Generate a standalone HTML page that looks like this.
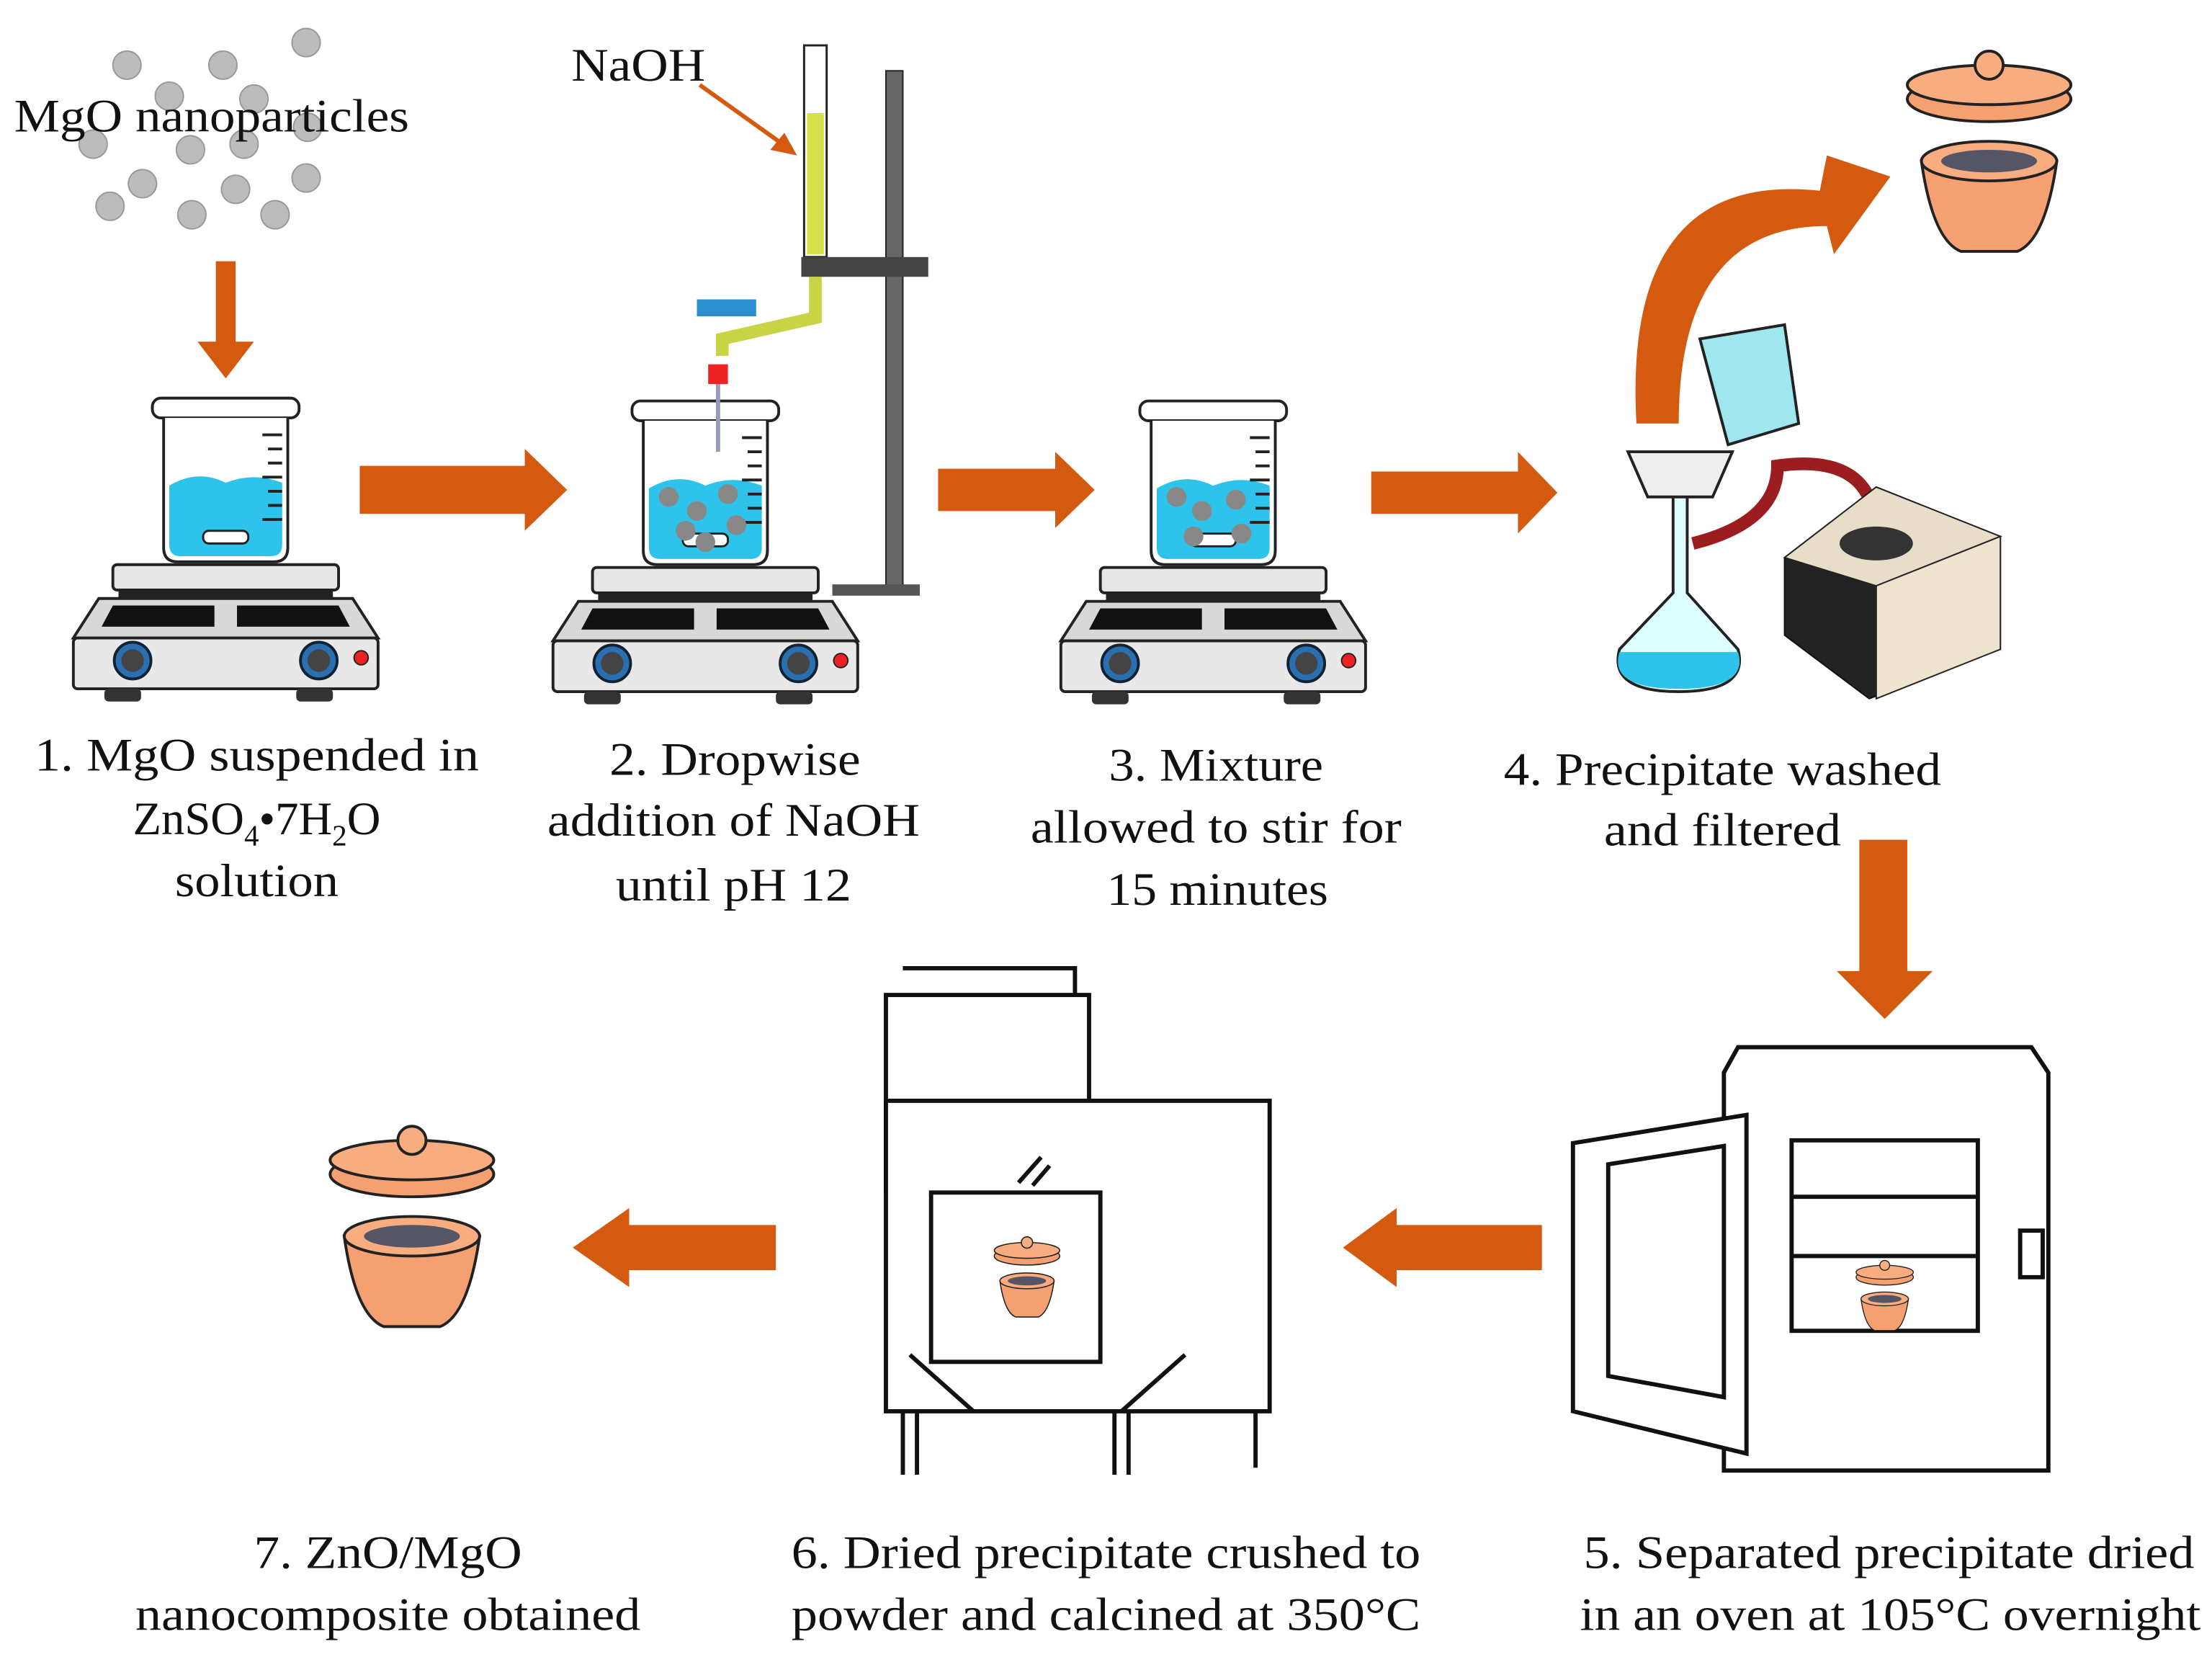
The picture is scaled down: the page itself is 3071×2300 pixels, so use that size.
<!DOCTYPE html>
<html><head><meta charset="utf-8"><style>
html,body{margin:0;padding:0;background:#fff}
svg{display:block}
text{font-family:"Liberation Serif",serif;fill:#111}
</style></head><body>
<svg width="3071" height="2300" viewBox="0 0 1568 1174" xmlns="http://www.w3.org/2000/svg">
<defs>
<g id="plate">
<rect x="-80" y="0" width="160" height="18" rx="3" fill="#e6e6e6" stroke="#222" stroke-width="2"/>
<rect x="-76" y="18" width="152" height="6" fill="#222"/>
<path d="M-90 24 L90 24 L108 52 L-108 52 Z" fill="#d8d8d8" stroke="#222" stroke-width="2"/>
<path d="M-80 29 L-8 29 L-8 44 L-88 44 Z" fill="#111"/>
<path d="M8 29 L80 29 L88 44 L8 44 Z" fill="#111"/>
<rect x="-108" y="52" width="216" height="36" rx="3" fill="#e8e8e8" stroke="#222" stroke-width="2"/>
<circle cx="-66" cy="68" r="13" fill="#2a6fb0" stroke="#123" stroke-width="2"/>
<circle cx="-66" cy="68" r="8" fill="#444"/>
<circle cx="66" cy="68" r="13" fill="#2a6fb0" stroke="#123" stroke-width="2"/>
<circle cx="66" cy="68" r="8" fill="#444"/>
<circle cx="96" cy="66" r="5" fill="#e22" stroke="#222"/>
<rect x="-86" y="88" width="26" height="9" rx="3" fill="#333"/>
<rect x="50" y="88" width="26" height="9" rx="3" fill="#333"/>
</g>
<g id="beaker">
<rect x="-52" y="-112" width="104" height="14" rx="6" fill="#fff" stroke="#222" stroke-width="2"/>
<path d="M-44 -98 L-44 -6 Q-44 4 -34 4 L34 4 Q44 4 44 -6 L44 -98" fill="#fff" stroke="#222" stroke-width="2"/>
<path d="M-40 -50 Q-20 -62 0 -52 Q20 -60 40 -52 L40 -8 Q40 0 32 0 L-32 0 Q-40 0 -40 -8 Z" fill="#2ec3ea"/>
<g stroke="#222" stroke-width="2"><line x1="26" y1="-86" x2="40" y2="-86"/><line x1="30" y1="-76" x2="40" y2="-76"/><line x1="30" y1="-66" x2="40" y2="-66"/><line x1="26" y1="-56" x2="40" y2="-56"/><line x1="30" y1="-46" x2="40" y2="-46"/><line x1="30" y1="-36" x2="40" y2="-36"/><line x1="26" y1="-26" x2="40" y2="-26"/></g>
<rect x="-16" y="-18" width="32" height="9" rx="4" fill="#fff" stroke="#222" stroke-width="1.5"/>
</g>
<g id="cruc">
<ellipse cx="0" cy="0" rx="58" ry="16" fill="#f5a070" stroke="#222" stroke-width="2"/>
<ellipse cx="0" cy="-10" rx="58" ry="14" fill="#f7ad80" stroke="#222" stroke-width="2"/>
<circle cx="0" cy="-24" r="10" fill="#f7ad80" stroke="#222" stroke-width="2"/>
<path d="M-48 44 Q-40 100 -20 108 L20 108 Q40 100 48 44 Z" fill="#f5a070" stroke="#222" stroke-width="2"/>
<ellipse cx="0" cy="44" rx="48" ry="14" fill="#f7ad80" stroke="#222" stroke-width="2"/>
<ellipse cx="0" cy="44" rx="34" ry="8" fill="#556" />
</g>
</defs>

<g fill="#bcbcbc" stroke="#999">
<circle cx="90" cy="46" r="10"/><circle cx="158" cy="46" r="10"/><circle cx="217" cy="30" r="10"/>
<circle cx="66" cy="102" r="10"/><circle cx="135" cy="106" r="10"/><circle cx="173" cy="102" r="10"/><circle cx="218" cy="90" r="10"/>
<circle cx="101" cy="130" r="10"/><circle cx="167" cy="134" r="10"/><circle cx="217" cy="126" r="10"/>
<circle cx="78" cy="146" r="10"/><circle cx="136" cy="152" r="10"/><circle cx="195" cy="152" r="10"/><circle cx="120" cy="68" r="10"/><circle cx="180" cy="70" r="10"/>
</g>
<text x="10" y="93" font-size="33" textLength="280" lengthAdjust="spacingAndGlyphs">MgO nanoparticles</text>

<g fill="#d45a10">
<path d="M153 185 L167 185 L167 242 L180 242 L160 268 L140 242 L153 242 Z"/>
<path d="M255 330 L372 330 L372 318 L402 347 L372 376 L372 364 L255 364 Z"/>
<path d="M665 332 L748 332 L748 320 L776 347 L748 374 L748 362 L665 362 Z"/>
<path d="M972 334 L1076 334 L1076 320 L1104 349 L1076 378 L1076 364 L972 364 Z"/>
<path d="M1318 595 L1352 595 L1352 688 L1370 688 L1336 722 L1302 688 L1318 688 Z"/>
<path d="M1093 868 L1093 900 L990 900 L990 912 L952 884 L990 856 L990 868 Z"/>
<path d="M550 868 L550 900 L446 900 L446 912 L406 884 L446 856 L446 868 Z"/>
<path d="M1160 300 Q1150 120 1290 135 L1295 110 L1340 125 L1300 180 L1295 160 Q1190 160 1190 300 Z"/>
</g>

<use href="#plate" x="160" y="400"/>
<use href="#beaker" x="160" y="394"/>
<use href="#plate" x="500" y="402"/>
<use href="#beaker" x="500" y="396"/>
<use href="#plate" x="860" y="402"/>
<use href="#beaker" x="860" y="396"/>
<g fill="#888"><circle cx="474" cy="352" r="7"/><circle cx="494" cy="362" r="7"/><circle cx="516" cy="350" r="7"/><circle cx="486" cy="376" r="7"/><circle cx="522" cy="372" r="7"/><circle cx="500" cy="384" r="7"/>
<circle cx="834" cy="352" r="7"/><circle cx="852" cy="362" r="7"/><circle cx="876" cy="354" r="7"/><circle cx="846" cy="380" r="7"/><circle cx="880" cy="378" r="7"/></g>
<rect x="628" y="50" width="12" height="370" fill="#666" stroke="#222"/>
<rect x="590" y="414" width="62" height="8" fill="#555"/>
<rect x="570" y="32" width="16" height="150" fill="#fff" stroke="#222" stroke-width="1.5"/>
<rect x="572" y="80" width="12" height="100" fill="#d6e04a"/>
<rect x="568" y="182" width="90" height="14" fill="#444"/>
<path d="M578 196 L578 225 L512 240 L512 252" fill="none" stroke="#c8d444" stroke-width="9"/>
<rect x="494" y="212" width="42" height="12" fill="#2a8ed0"/>
<rect x="502" y="258" width="14" height="14" fill="#e22"/>
<line x1="509" y1="272" x2="509" y2="320" stroke="#99b" stroke-width="3"/>
<text x="405" y="57" font-size="33" textLength="95" lengthAdjust="spacingAndGlyphs">NaOH</text>
<path d="M496 60 L552 100" stroke="#d45a10" stroke-width="3"/><path d="M565 110 L546 106 L556 94 Z" fill="#d45a10"/>

<path d="M1186 350 L1186 420 L1148 460 Q1140 490 1190 490 Q1240 490 1232 460 L1196 420 L1196 350 Z" fill="#dff" stroke="#222" stroke-width="2"/>
<path d="M1148 462 Q1140 488 1190 488 Q1240 488 1232 462 Z" fill="#2ec3ea"/>
<path d="M1154 320 L1228 320 L1214 352 L1168 352 Z" fill="#eee" stroke="#222" stroke-width="2"/>
<path d="M1205 240 L1265 230 L1275 300 L1225 315 Z" fill="#9fe6ee" stroke="#222" stroke-width="2"/>
<path d="M1200 385 Q1260 370 1260 330 Q1330 320 1330 380" fill="none" stroke="#9b1d20" stroke-width="9"/>
<path d="M1265 395 L1330 345 L1418 380 L1418 460 L1325 495 L1265 450 Z" fill="#222" stroke="#111"/>
<path d="M1330 345 L1418 380 L1330 415 L1265 395 Z" fill="#e8ddc8" stroke="#222"/>
<path d="M1330 415 L1418 380 L1418 460 L1330 495 Z" fill="#eee3cf" stroke="#222"/>
<ellipse cx="1330" cy="385" rx="26" ry="12" fill="#333"/>
<use href="#cruc" x="1410" y="70"/>

<g fill="none" stroke="#111" stroke-width="3">
<path d="M1222 760 L1232 742 L1440 742 L1452 760 L1452 1042 L1222 1042 Z" fill="#fff"/>
<rect x="1270" y="808" width="132" height="135"/>
<line x1="1270" y1="848" x2="1402" y2="848"/><line x1="1270" y1="890" x2="1402" y2="890"/>
<path d="M1115 810 L1238 790 L1238 1030 L1115 1000 Z" fill="#fff"/>
<path d="M1140 825 L1222 812 L1222 990 L1140 975 Z"/>
<path d="M1432 872 L1448 872 L1448 905 L1432 905 Z"/>
</g>
<use href="#cruc" transform="translate(1336 905) scale(0.35)"/>

<g fill="#fff" stroke="#111" stroke-width="3">
<path d="M640 686 L762 686 L762 712" fill="none"/>
<path d="M628 705 L772 705 L772 845 L628 845 Z"/>
<path d="M628 845 L628 780 L900 780 L900 1000 L628 1000 Z"/>
<rect x="660" y="845" width="120" height="120" fill="none"/>
<line x1="640" y1="1000" x2="640" y2="1045"/><line x1="650" y1="1000" x2="650" y2="1045"/>
<line x1="790" y1="1000" x2="790" y2="1045"/><line x1="800" y1="1000" x2="800" y2="1045"/>
<line x1="890" y1="1000" x2="890" y2="1040"/>
<line x1="645" y1="960" x2="690" y2="1000"/><line x1="795" y1="1000" x2="840" y2="960"/>
<line x1="722" y1="838" x2="738" y2="820"/><line x1="732" y1="840" x2="744" y2="826"/>
</g>
<use href="#cruc" transform="translate(728 890) scale(0.4)"/>
<use href="#cruc" x="292" y="832"/>

<g font-size="33" text-anchor="middle">
<text x="182" y="546" textLength="315" lengthAdjust="spacingAndGlyphs">1. MgO suspended  in</text>
<text x="182" y="591">ZnSO<tspan font-size="21" dy="8">4</tspan><tspan dy="-8">•7H</tspan><tspan font-size="21" dy="8">2</tspan><tspan dy="-8">O</tspan></text>
<text x="182" y="635" textLength="116" lengthAdjust="spacingAndGlyphs">solution</text>
<text x="521" y="549" textLength="178" lengthAdjust="spacingAndGlyphs">2. Dropwise</text>
<text x="520" y="592" textLength="264" lengthAdjust="spacingAndGlyphs">addition of NaOH</text>
<text x="520" y="638" textLength="167" lengthAdjust="spacingAndGlyphs">until pH 12</text>
<text x="862" y="553" textLength="152" lengthAdjust="spacingAndGlyphs">3. Mixture</text>
<text x="862" y="597" textLength="263" lengthAdjust="spacingAndGlyphs">allowed to stir for</text>
<text x="863" y="641" textLength="157" lengthAdjust="spacingAndGlyphs">15 minutes</text>
<text x="1221" y="556" textLength="310" lengthAdjust="spacingAndGlyphs">4. Precipitate washed</text>
<text x="1221" y="599" textLength="168" lengthAdjust="spacingAndGlyphs">and filtered</text>
<text x="275" y="1111" textLength="190" lengthAdjust="spacingAndGlyphs">7. ZnO/MgO</text>
<text x="275" y="1155" textLength="358" lengthAdjust="spacingAndGlyphs">nanocomposite  obtained</text>
<text x="784" y="1111" textLength="446" lengthAdjust="spacingAndGlyphs">6. Dried precipitate crushed  to</text>
<text x="784" y="1155" textLength="446" lengthAdjust="spacingAndGlyphs">powder and calcined at 350°C</text>
<text x="1339" y="1111" textLength="433" lengthAdjust="spacingAndGlyphs">5. Separated precipitate dried</text>
<text x="1340" y="1155" textLength="440" lengthAdjust="spacingAndGlyphs">in an oven at 105°C overnight</text>
</g>
</svg>
</body></html>
